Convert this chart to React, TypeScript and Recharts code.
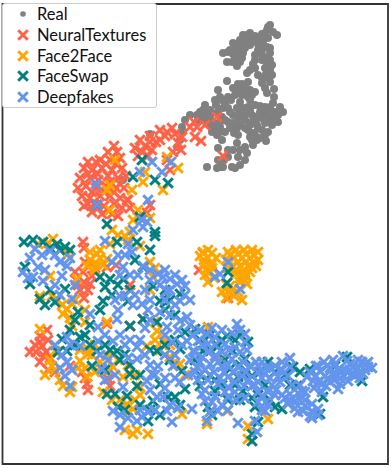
import React from "react";
import { ScatterChart, Scatter, XAxis, YAxis, Legend, ReferenceArea } from "recharts";

type P = [number, number];

const real: P[] = [[270,25],[267,30],[265,33],[277,35],[273,32],[262,37],[250,33],[243,35],[240,40],[233,43],[237,48],[223,53],[230,50],[242,43],[245,48],[238,53],[243,53],[235,60],[242,58],[227,62],[237,66],[250,38],[257,38],[263,42],[267,47],[270,53],[255,55],[255,60],[270,60],[267,65],[270,70],[265,68],[272,75],[255,68],[247,73],[258,75],[262,83],[270,82],[265,88],[227,81],[267,93],[274,89],[274,97],[238,84],[245,87],[250,90],[233,88],[218,90],[235,95],[242,95],[248,97],[228,97],[220,97],[215,100],[240,102],[225,103],[223,108],[273,103],[270,107],[260,106],[248,107],[250,110],[237,108],[243,108],[280,107],[283,112],[275,112],[260,112],[255,117],[275,117],[270,120],[278,122],[252,122],[238,118],[233,123],[257,125],[265,123],[250,125],[258,128],[268,132],[265,135],[266,141],[253,133],[252,140],[253,145],[230,128],[237,128],[238,135],[225,132],[220,127],[215,128],[217,135],[222,140],[212,132],[208,123],[203,110],[210,110],[200,112],[205,115],[197,115],[222,117],[218,112],[202,118],[237,143],[245,147],[247,153],[233,150],[238,157],[228,157],[218,148],[218,160],[223,167],[217,168],[232,167],[235,168],[207,167],[245,160],[190,115],[185,120],[182,127],[183,132],[180,140],[150,134],[177,147],[123,180],[250,45],[262,50],[268,38],[258,50],[235,56],[262,60],[240,90],[250,100],[245,115],[255,105],[265,113],[262,118],[245,128],[255,135],[225,120],[230,112],[210,118],[212,125],[220,122],[268,27],[262,34],[255,36],[247,35],[236,45],[228,52],[233,54],[240,50],[246,42],[252,42],[258,44],[264,47],[270,48],[262,55],[266,58],[272,65],[266,74],[262,78],[250,70],[253,64],[232,62],[240,62],[248,82],[242,84],[255,92],[268,78],[236,90],[244,92],[252,95],[231,100],[222,100],[216,105],[205,105],[212,113],[228,108],[233,115],[240,112],[252,115],[265,107],[268,115],[272,125],[262,130],[256,120],[245,120],[240,125],[234,133],[228,122],[220,132],[214,123],[205,120],[198,120],[248,130],[250,137],[257,140],[260,138],[270,110],[278,115],[228,150],[240,150],[224,160],[240,165],[220,167]];

const neuralTextures: P[] = [[114,146],[108,152],[117,152],[88,162],[100,160],[110,160],[120,158],[84,168],[92,170],[102,168],[112,170],[122,168],[80,178],[90,178],[98,180],[108,176],[118,178],[126,176],[78,188],[86,186],[96,188],[106,186],[116,188],[124,188],[82,196],[90,198],[100,196],[110,196],[120,198],[84,206],[94,204],[104,206],[114,204],[122,208],[92,212],[102,214],[112,214],[128,200],[130,208],[118,216],[140,140],[150,136],[156,142],[135,148],[145,146],[152,150],[138,156],[148,156],[160,130],[167,132],[172,128],[165,136],[175,134],[182,137],[178,143],[190,127],[194,122],[181,150],[173,152],[167,160],[170,170],[217,117],[205,125],[197,127],[201,141],[223,156],[195,137],[127,200],[147,213],[150,205],[138,217],[83,272],[76,280],[84,282],[92,276],[80,290],[88,290],[84,298],[83,242],[84,248],[47,330],[40,336],[48,340],[42,346],[36,352],[30,352],[46,352],[40,362],[50,358],[48,370],[55,372],[87,384],[85,378],[88,390],[82,372],[108,379],[110,386],[130,326],[143,319],[107,324],[70,366],[116,265],[130,285],[107,267],[203,253],[199,270],[228,298],[150,142],[142,152],[160,140],[40,342],[44,356],[35,345],[78,285],[90,284],[75,272],[95,268],[85,262],[96,162],[106,164],[116,164],[88,174],[98,174],[110,182],[120,184],[92,192],[104,192],[114,192],[88,204],[98,208],[108,210]];

const face2Face: P[] = [[228,252],[236,250],[244,250],[252,250],[258,252],[226,260],[234,258],[242,258],[250,258],[258,260],[232,266],[240,266],[248,266],[256,266],[236,274],[244,274],[250,272],[240,282],[245,280],[208,250],[200,256],[208,258],[216,258],[204,264],[212,264],[210,272],[214,278],[208,282],[206,270],[228,292],[234,296],[226,298],[242,300],[247,284],[208,327],[222,359],[227,411],[268,419],[207,424],[248,426],[248,439],[115,160],[107,190],[110,185],[110,210],[132,190],[143,182],[145,172],[163,190],[167,157],[178,168],[138,210],[150,218],[133,220],[112,230],[38,244],[53,239],[68,254],[97,254],[110,244],[125,236],[140,246],[97,264],[87,266],[77,279],[107,259],[50,276],[52,296],[40,296],[67,309],[63,314],[72,304],[72,326],[85,322],[107,322],[40,329],[55,351],[52,366],[63,386],[72,387],[88,349],[80,361],[88,354],[95,372],[87,377],[113,354],[107,356],[113,367],[123,377],[103,392],[140,387],[127,404],[133,409],[133,434],[148,434],[182,414],[155,322],[157,331],[147,346],[163,341],[170,357],[180,364],[153,277],[230,255],[238,254],[246,254],[254,255],[230,262],[238,262],[246,262],[254,262],[236,270],[244,270],[252,268],[228,268],[240,278],[246,276],[203,252],[212,253],[204,260],[212,268],[205,275],[232,290],[238,292],[222,292],[230,286],[226,284],[58,300],[62,305],[70,318],[95,270],[100,258],[103,265],[90,260],[80,350],[78,368],[85,368],[92,355],[95,345],[100,362],[110,370],[118,360],[128,365],[135,375],[140,395],[128,412],[135,400],[120,400],[112,400],[125,430],[55,370],[60,380],[70,392],[137,430],[50,360],[45,375],[130,232],[128,240],[118,235],[100,250],[90,252],[60,250],[48,243],[75,300],[85,310],[150,262],[155,268],[150,290],[155,340],[160,350],[170,345],[175,365],[185,375]];

const faceSwap: P[] = [[24,242],[43,242],[57,244],[65,247],[25,267],[30,284],[40,299],[55,302],[65,289],[78,312],[100,277],[110,279],[105,287],[123,279],[103,301],[128,301],[117,242],[137,242],[155,236],[130,326],[143,319],[80,337],[62,339],[58,352],[67,351],[97,351],[92,366],[117,351],[125,354],[130,374],[137,386],[107,394],[115,394],[127,396],[118,407],[148,421],[157,351],[180,349],[153,286],[160,301],[157,322],[143,267],[180,294],[185,332],[182,371],[160,384],[185,389],[168,397],[153,401],[175,397],[142,160],[133,177],[155,180],[168,183],[107,224],[97,205],[155,232],[140,217],[227,283],[228,272],[33,240],[50,248],[60,250],[70,250],[50,290],[45,305],[75,320],[70,330],[90,325],[100,310],[112,295],[118,285],[130,290],[135,260],[150,250],[75,345],[85,335],[90,345],[105,345],[110,350],[120,360],[105,370],[130,365],[140,375],[150,350],[165,345],[170,360],[175,340],[165,310],[175,315],[165,290],[170,300],[150,410],[160,415],[140,405],[125,410],[180,405],[195,329],[203,351],[218,346],[227,336],[233,351],[248,342],[230,369],[245,359],[200,386],[238,377],[252,376],[275,372],[293,367],[310,369],[268,362],[323,397],[297,386],[275,407],[255,407],[282,409],[320,414],[215,391],[243,391],[208,407],[252,434],[252,441],[258,422],[335,366],[362,381],[347,357],[328,379],[200,340],[210,335],[222,340],[235,340],[240,335],[195,360],[210,350],[225,360],[240,365],[200,375],[210,375],[222,385],[215,380],[235,385],[245,375],[260,372],[265,385],[258,395],[252,398],[270,400],[285,375],[290,385],[300,372],[228,400],[240,400],[212,415]];

const deepfakes: P[] = [[96,184],[97,205],[148,200],[140,172],[152,162],[162,172],[171,162],[142,220],[133,230],[143,227],[147,222],[35,249],[50,251],[23,272],[38,267],[33,277],[43,281],[62,276],[67,266],[105,241],[128,244],[123,267],[120,296],[143,266],[142,304],[125,296],[72,299],[90,314],[117,319],[98,327],[67,337],[98,341],[113,341],[80,346],[137,347],[137,359],[67,362],[65,376],[70,386],[102,369],[123,387],[113,411],[120,427],[137,421],[142,417],[172,422],[167,411],[152,374],[158,366],[147,381],[163,397],[157,397],[163,277],[170,279],[177,284],[185,286],[180,301],[160,312],[167,327],[180,321],[187,341],[193,351],[173,366],[192,409],[158,274],[167,291],[187,317],[237,324],[245,334],[245,342],[207,334],[215,337],[198,341],[208,344],[225,344],[235,347],[202,357],[215,356],[232,359],[197,367],[210,364],[222,367],[238,367],[250,366],[262,362],[282,362],[290,367],[265,374],[278,377],[228,377],[242,376],[218,384],[202,394],[228,387],[252,386],[205,401],[228,397],[218,411],[258,402],[265,411],[207,421],[238,423],[257,432],[255,421],[290,394],[295,401],[302,391],[288,404],[303,411],[312,411],[318,409],[310,416],[307,377],[313,381],[320,371],[327,366],[322,384],[332,374],[335,364],[342,371],[347,361],[353,367],[362,362],[368,367],[355,376],[363,374],[348,381],[338,389],[228,262],[215,277],[220,274],[240,289],[200,330],[212,328],[222,330],[232,333],[240,330],[203,345],[215,345],[229,350],[240,352],[247,350],[195,352],[208,352],[222,352],[200,362],[218,362],[228,365],[243,362],[256,362],[195,372],[205,370],[214,372],[224,372],[234,372],[246,372],[258,372],[198,380],[208,380],[220,378],[235,382],[248,380],[258,382],[270,368],[270,378],[280,370],[288,376],[272,385],[205,390],[215,396],[225,392],[235,392],[244,386],[258,392],[268,392],[212,402],[222,405],[236,400],[245,398],[262,396],[210,412],[228,410],[266,402],[275,395],[292,385],[298,393],[285,398],[295,408],[305,400],[312,404],[300,385],[305,392],[316,376],[325,376],[330,382],[314,388],[322,392],[340,378],[345,370],[352,374],[358,368],[365,370],[360,378],[350,364],[338,370],[330,368],[343,356],[358,360],[368,362],[372,368],[316,366],[324,362],[333,360],[280,382],[290,358],[150,270],[165,270],[175,275],[182,280],[150,280],[160,285],[170,290],[185,295],[175,305],[165,300],[190,300],[170,315],[190,325],[178,330],[165,335],[193,335],[172,342],[182,345],[190,360],[175,355],[165,355],[155,375],[165,378],[175,378],[150,390],[165,388],[180,382],[188,375],[170,405],[178,408],[155,410],[148,412],[120,415],[128,418],[140,410],[30,258],[42,255],[55,255],[60,262],[70,258],[28,278],[45,270],[55,285],[60,295],[75,285],[112,262],[118,255],[125,255],[132,252],[120,275],[130,275],[138,275],[115,300],[135,295],[133,305],[118,310],[145,290],[150,300],[148,310],[105,335],[120,335],[70,345],[55,345],[62,355],[60,368],[72,370],[108,360],[115,375],[105,380],[100,355],[130,340],[128,358],[125,345],[140,340],[145,355],[150,365],[145,328],[150,320],[310,372],[318,366],[336,374],[344,376],[350,370],[358,374],[366,364],[340,384],[334,380],[326,386],[318,382],[290,400],[300,400],[305,406],[298,412],[318,415],[312,418],[258,366],[266,368],[275,366],[282,370],[262,378],[255,385],[276,390],[282,395],[268,405],[262,410]];

const seriesNames = ["Real", "NeuralTextures", "Face2Face", "FaceSwap", "Deepfakes"];
const seriesColors = ["#808080", "#FF6347", "#FFA500", "#008080", "#6495ED"];
const seriesData = [real, neuralTextures, face2Face, faceSwap, deepfakes];

const toRows = (pts: P[]) => pts.map(([x, y]) => ({ x, y }));

const Cross = ({ cx, cy, color }: { cx?: number; cy?: number; color: string }) => {
  const r = 4.8;
  const a = cx ?? 0;
  const b = cy ?? 0;
  return (
    <path
      d={`M${a - r} ${b - r}L${a + r} ${b + r}M${a - r} ${b + r}L${a + r} ${b - r}`}
      stroke={color}
      strokeWidth={3}
      fill="none"
    />
  );
};

const Dot = ({ cx, cy, color }: { cx?: number; cy?: number; color: string }) => (
  <circle cx={cx} cy={cy} r={4} fill={color} />
);

const LegendBox = () => (
  <div
    style={{
      width: 155,
      height: 105,
      boxSizing: "border-box",
      background: "#fff",
      border: "1px solid #ccc",
      borderRadius: 3,
      fontFamily: "Lato, sans-serif",
      fontSize: 16.5,
      color: "#111",
    }}
  >
    {seriesNames.map((name, i) => (
      <div key={name} style={{ display: "flex", alignItems: "center", height: 20.7 }}>
        <svg width={34} height={20} style={{ flex: "none" }}>
          {i === 0 ? (
            <circle cx={20} cy={10} r={2.8} fill={seriesColors[0]} />
          ) : (
            <Cross cx={20} cy={10} color={seriesColors[i]} />
          )}
        </svg>
        <span>{name}</span>
      </div>
    ))}
  </div>
);

export default function App() {
  return (
    <div style={{ position: "absolute", left: 0, top: 0, width: 391, height: 468 }}>
      <ScatterChart width={391} height={468} margin={{ top: 0, right: 0, bottom: 0, left: 0 }}>
        <XAxis type="number" dataKey="x" domain={[0, 391]} hide />
        <YAxis type="number" dataKey="y" domain={[0, 468]} reversed hide />
        {seriesNames.map((name, i) => (
          <Scatter
            key={name}
            name={name}
            data={toRows(seriesData[i])}
            fill={seriesColors[i]}
            isAnimationActive={false}
            shape={(p: any) =>
              i === 0 ? (
                <Dot cx={p.cx} cy={p.cy} color={seriesColors[i]} />
              ) : (
                <Cross cx={p.cx} cy={p.cy} color={seriesColors[i]} />
              )
            }
          />
        ))}
        <ReferenceArea x1={2.5} x2={388} y1={4} y2={464} fill="none" stroke="#333" strokeWidth={1.8} ifOverflow="visible" />
        <Legend
          align="center"
          verticalAlign="middle"
          content={<LegendBox />}
          wrapperStyle={{ left: 2, top: 3, width: 155 }}
        />
      </ScatterChart>
    </div>
  );
}
